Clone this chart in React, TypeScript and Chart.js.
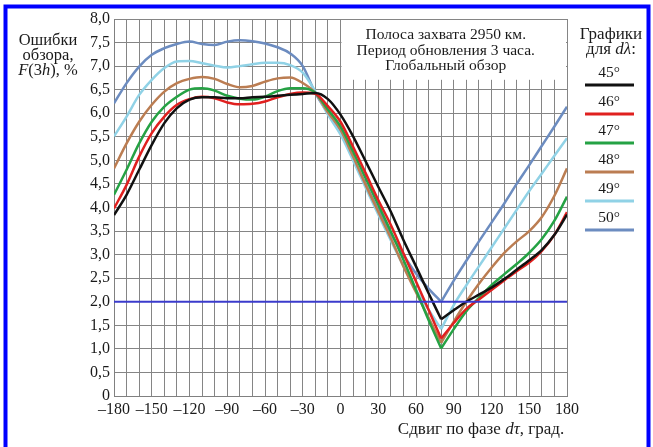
import React, { useEffect, useRef } from "react";
import { Chart, registerables } from "chart.js";

Chart.register(...registerables);

const xValues = [
  -180, -170, -160, -150, -140, -130, -120, -110, -100, -90, -80, -70, -60, -50, -40, -30, -20, -10,
  0, 10, 20, 30, 40, 50, 60, 70, 80, 90, 100, 110, 120, 130, 140, 150, 160, 170, 180,
];

const series45 = [
  3.84, 4.27, 4.8, 5.33, 5.79, 6.11, 6.29, 6.34, 6.34, 6.32, 6.32, 6.34, 6.35, 6.37, 6.39, 6.41, 6.43, 6.3,
  5.97, 5.51, 4.98, 4.44, 3.91, 3.31, 2.75, 2.18, 1.63, 1.82, 2.0, 2.15, 2.3, 2.48, 2.68, 2.88, 3.1, 3.42, 3.85,
];
const series46 = [
  3.98, 4.48, 5.08, 5.58, 5.93, 6.18, 6.3, 6.35, 6.32, 6.23, 6.19, 6.2, 6.25, 6.34, 6.41, 6.44, 6.41, 6.15,
  5.82, 5.29, 4.73, 4.16, 3.63, 3.03, 2.43, 1.83, 1.22, 1.55, 1.85, 2.05, 2.25, 2.45, 2.65, 2.83, 3.08, 3.42, 3.9,
];
const series47 = [
  4.27, 4.8, 5.36, 5.82, 6.14, 6.35, 6.5, 6.53, 6.48, 6.37, 6.31, 6.29, 6.35, 6.47, 6.53, 6.53, 6.43, 6.08,
  5.72, 5.19, 4.62, 4.06, 3.49, 2.89, 2.25, 1.61, 1.01, 1.42, 1.8, 2.08, 2.35, 2.58, 2.8, 3.04, 3.33, 3.72, 4.23,
];
const series48 = [
  4.83, 5.36, 5.82, 6.18, 6.46, 6.64, 6.73, 6.77, 6.73, 6.62, 6.55, 6.58, 6.67, 6.74, 6.76, 6.64, 6.43, 6.02,
  5.65, 5.08, 4.48, 3.91, 3.35, 2.75, 2.2, 1.66, 1.13, 1.58, 2.0, 2.38, 2.72, 3.03, 3.28, 3.5, 3.8, 4.25, 4.83,
];
const series49 = [
  5.51, 5.93, 6.39, 6.71, 6.96, 7.1, 7.11, 7.06, 7.01, 6.97, 7.0, 7.04, 7.07, 7.07, 7.02, 6.86, 6.46, 5.97,
  5.55, 5.0, 4.42, 3.85, 3.3, 2.76, 2.26, 1.83, 1.42, 1.93, 2.35, 2.75, 3.15, 3.55, 3.95, 4.35, 4.72, 5.1, 5.47,
];
const series50 = [
  6.21, 6.64, 6.99, 7.24, 7.38, 7.47, 7.52, 7.47, 7.45, 7.52, 7.55, 7.53, 7.48, 7.4, 7.27, 7.0, 6.43, 6.0,
  5.6, 5.05, 4.5, 3.95, 3.45, 3.0, 2.6, 2.28, 2.0, 2.45, 2.87, 3.28, 3.68, 4.08, 4.5, 4.9, 5.31, 5.72, 6.14,
];

const seriesLabels = ["45°", "46°", "47°", "48°", "49°", "50°"];
const seriesColors = ["#111111", "#e0201f", "#25a244", "#bb7d52", "#90d2e6", "#6c8cc0"];
const seriesValues = [series45, series46, series47, series48, series49, series50];

const thresholdValue = 2.0;
const minimumAt = 80;

const yTicksMax = 8;
const yStep = 0.5;
const xStep = 10;
const xLabelStep = 30;

const titleLines = ["Полоса захвата 2950 км.", "Период обновления 3 часа.", "Глобальный обзор"];
const boxFrom = { x: 0, y: 6.71 };

const SERIF = "'Liberation Serif', 'Times New Roman', serif";

type Part = { t: string; i?: boolean };

function drawRich(ctx: CanvasRenderingContext2D, parts: Part[], cx: number, y: number, size: number) {
  let total = 0;
  const widths = parts.map((p) => {
    ctx.font = `${p.i ? "italic " : ""}${size}px ${SERIF}`;
    const w = ctx.measureText(p.t).width;
    total += w;
    return w;
  });
  let x = cx - total / 2;
  ctx.textAlign = "left";
  parts.forEach((p, k) => {
    ctx.font = `${p.i ? "italic " : ""}${size}px ${SERIF}`;
    ctx.fillText(p.t, x, y);
    x += widths[k];
  });
}

const decorPlugin = {
  id: "decor",
  beforeDraw(chart: any) {
    const ctx = chart.ctx as CanvasRenderingContext2D;
    ctx.save();
    ctx.fillStyle = "#ffffff";
    ctx.fillRect(0, 0, chart.width, chart.height);
    ctx.restore();
  },
  beforeDatasetsDraw(chart: any) {
    const ctx = chart.ctx as CanvasRenderingContext2D;
    const xs = chart.scales.x;
    const ys = chart.scales.y;
    const l = xs.getPixelForValue(boxFrom.x) + 1;
    const r = chart.chartArea.right - 1;
    const t = chart.chartArea.top + 1;
    const b = ys.getPixelForValue(boxFrom.y);
    ctx.save();
    ctx.fillStyle = "#ffffff";
    ctx.fillRect(l, t, r - l, b - t);
    ctx.fillStyle = "#1a1a1a";
    ctx.textBaseline = "middle";
    const cx = (l + r) / 2 - 8;
    titleLines.forEach((line, k) => drawRich(ctx, [{ t: line }], cx, 35 + k * 15.5, 15.5));
    ctx.restore();
  },
  afterDraw(chart: any) {
    const ctx = chart.ctx as CanvasRenderingContext2D;
    ctx.save();
    ctx.fillStyle = "#1a1a1a";
    ctx.textBaseline = "middle";
    // y-axis title
    drawRich(ctx, [{ t: "Ошибки" }], 48, 41, 16.5);
    drawRich(ctx, [{ t: "обзора," }], 48, 56, 16.5);
    drawRich(ctx, [{ t: "F", i: true }, { t: "(3" }, { t: "h", i: true }, { t: "), %" }], 48, 71, 16.5);
    // x-axis title
    drawRich(ctx, [{ t: "Сдвиг по фазе " }, { t: "d", i: true }, { t: "τ", i: true }, { t: ", град." }], 481, 430, 17);
    // legend
    drawRich(ctx, [{ t: "Графики" }], 611, 35, 17);
    drawRich(ctx, [{ t: "для " }, { t: "dλ", i: true }, { t: ":" }], 611, 50, 17);
    seriesLabels.forEach((lab, k) => {
      const ty = 73 + k * 29;
      drawRich(ctx, [{ t: lab }], 609, ty, 15.5);
      ctx.strokeStyle = seriesColors[k];
      ctx.lineWidth = 3;
      ctx.beginPath();
      ctx.moveTo(585, ty + 12);
      ctx.lineTo(634, ty + 12);
      ctx.stroke();
    });
    // blue frame
    ctx.strokeStyle = "#0000ff";
    ctx.lineWidth = 4;
    ctx.beginPath();
    ctx.moveTo(5.5, chart.height + 5);
    ctx.lineTo(5.5, 6.5);
    ctx.lineTo(648.5, 6.5);
    ctx.lineTo(648.5, chart.height + 5);
    ctx.stroke();
    ctx.restore();
  },
};

export default function App() {
  const ref = useRef<HTMLCanvasElement | null>(null);

  useEffect(() => {
    if (!ref.current) return;
    const splitIdx = xValues.indexOf(minimumAt);
    const datasets: any[] = [];
    datasets.push({
      label: "2,0",
      data: [
        { x: xValues[0], y: thresholdValue },
        { x: xValues[xValues.length - 1], y: thresholdValue },
      ],
      borderColor: "#3b3bcc",
      borderWidth: 2,
      pointRadius: 0,
      tension: 0,
    });
    seriesValues.forEach((vals, k) => {
      const pts = xValues.map((x, i) => ({ x, y: vals[i] }));
      datasets.push({
        label: seriesLabels[k],
        data: pts.slice(0, splitIdx + 1),
        borderColor: seriesColors[k],
        borderWidth: 2.5,
        pointRadius: 0,
        cubicInterpolationMode: "monotone",
      });
      datasets.push({
        label: seriesLabels[k] + "b",
        data: pts.slice(splitIdx),
        borderColor: seriesColors[k],
        borderWidth: 2.5,
        pointRadius: 0,
        cubicInterpolationMode: "monotone",
      });
    });

    const chart = new Chart(ref.current, {
      type: "line",
      data: { datasets },
      options: {
        responsive: false,
        animation: false,
        events: [],
        layout: { padding: { left: 0, right: 86, top: 19, bottom: 0 } },
        plugins: { legend: { display: false }, tooltip: { enabled: false } },
        scales: {
          x: {
            type: "linear",
            min: xValues[0],
            max: xValues[xValues.length - 1],
            afterFit: (s: any) => {
              s.height = 51;
            },
            ticks: {
              stepSize: xStep,
              autoSkip: false,
              maxRotation: 0,
              padding: 4,
              color: "#1a1a1a",
              font: { family: SERIF, size: 16 },
              callback: (v: any) => {
                const n = Math.round(Number(v));
                if (n % xLabelStep !== 0) return "";
                return n < 0 ? "–" + Math.abs(n) : String(n);
              },
            },
            grid: { color: "#858585", lineWidth: 1, drawTicks: false },
            border: { color: "#808080", width: 1 },
          },
          y: {
            type: "linear",
            min: 0,
            max: yTicksMax,
            afterFit: (s: any) => {
              s.width = 114;
            },
            ticks: {
              stepSize: yStep,
              padding: 4,
              color: "#1a1a1a",
              font: { family: SERIF, size: 16 },
              callback: (v: any) => {
                const n = Number(v);
                return n === 0 ? "0" : n.toFixed(1).replace(".", ",");
              },
            },
            grid: { color: "#858585", lineWidth: 1, drawTicks: false },
            border: { color: "#808080", width: 1 },
          },
        },
      },
      plugins: [decorPlugin],
    });
    return () => chart.destroy();
  }, []);

  return (
    <div style={{ position: "fixed", left: 0, top: 0, width: 653, height: 447, background: "#fff" }}>
      <canvas ref={ref} width={653} height={447} style={{ width: 653, height: 447, display: "block" }} />
    </div>
  );
}
